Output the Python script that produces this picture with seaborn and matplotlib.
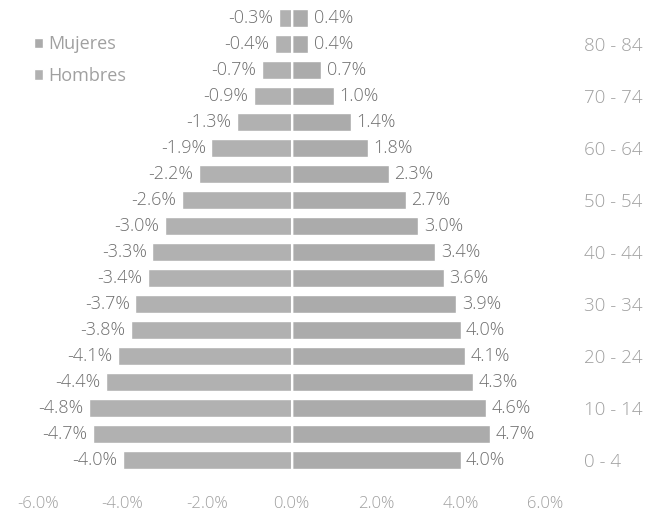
import pandas as pd
import matplotlib.pyplot as plt
import seaborn as sns

# grupos de edad, de arriba (mayor) a abajo (menor)
edades = ["85+", "80 - 84", "75 - 79", "70 - 74", "65 - 69", "60 - 64", "55 - 59",
          "50 - 54", "45 - 49", "40 - 44", "35 - 39", "30 - 34", "25 - 29",
          "20 - 24", "15 - 19", "10 - 14", "5 - 9", "0 - 4"]
hombres = [-0.3, -0.4, -0.7, -0.9, -1.3, -1.9, -2.2, -2.6, -3.0, -3.3, -3.4,
           -3.7, -3.8, -4.1, -4.4, -4.8, -4.7, -4.0]
mujeres = [0.4, 0.4, 0.7, 1.0, 1.4, 1.8, 2.3, 2.7, 3.0, 3.4, 3.6, 3.9, 4.0,
           4.1, 4.3, 4.6, 4.7, 4.0]
etiquetas_edad = ["80 - 84", "70 - 74", "60 - 64", "50 - 54", "40 - 44",
                  "30 - 34", "20 - 24", "10 - 14", "0 - 4"]
xticks = [-6, -4, -2, 0, 2, 4, 6]

sns.set_style("white")
plt.rcParams["font.family"] = ["Open Sans", "DejaVu Sans"]

df = pd.concat([
    pd.DataFrame({"edad": edades, "valor": mujeres, "sexo": "Mujeres"}),
    pd.DataFrame({"edad": edades, "valor": hombres, "sexo": "Hombres"}),
])

fig, ax = plt.subplots(figsize=(6.45, 5.19), dpi=100)
fig.subplots_adjust(left=0.059, right=0.845, top=0.99, bottom=0.089)

sns.barplot(data=df, x="valor", y="edad", hue="sexo", order=edades,
            hue_order=["Mujeres", "Hombres"], dodge=False, width=0.7,
            palette={"Mujeres": "#ababab", "Hombres": "#b1b1b1"},
            orient="h", ax=ax, saturation=1)

for cont in ax.containers:
    ax.bar_label(cont, fmt="{:.1f}%", padding=4, fontsize=13,
                 color="#707070", fontweight="light")

ax.axvline(0, color="white", lw=1.5)
ax.set_xlim(-6, 6)
ax.set_xticks(xticks)
ax.set_xticklabels([f"{v:.1f}%" for v in xticks], fontsize=12, color="#a0a0a0",
                   fontweight="light")
ax.tick_params(axis="x", length=0, pad=17)

ax.yaxis.tick_right()
ax.set_yticks([edades.index(e) for e in etiquetas_edad])
ax.set_yticklabels(etiquetas_edad, fontsize=13.5, color="#a0a0a0", fontweight="light")
ax.tick_params(axis="y", length=0, pad=28)

ax.set_xlabel("")
ax.set_ylabel("")
sns.despine(ax=ax, left=True, bottom=True)

leg = ax.legend(loc="upper left", bbox_to_anchor=(-0.04, 0.97), frameon=False,
                fontsize=13, handlelength=0.5, handleheight=0.5,
                handletextpad=0.3, labelspacing=0.75)
for t in leg.get_texts():
    t.set_color("#a0a0a0")

fig.savefig("out.png", dpi=100)
